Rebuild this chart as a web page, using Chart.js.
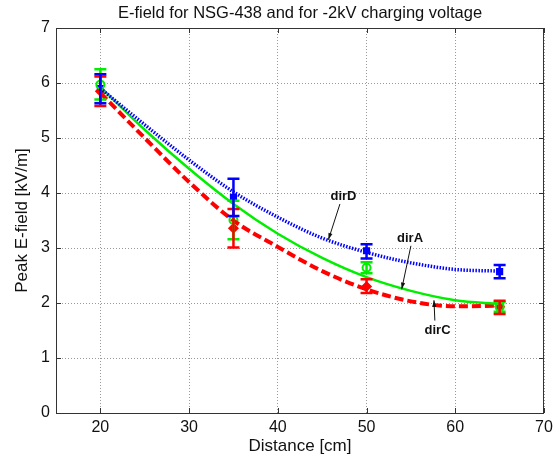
<!DOCTYPE html>
<html><head><meta charset="utf-8">
<script src="https://cdn.jsdelivr.net/npm/chart.js@4/dist/chart.umd.min.js"></script>
<style>html,body{margin:0;padding:0;background:#fff}#wrap{width:558px;height:463px;position:relative}</style>
</head><body><div id="wrap"><canvas id="c"></canvas></div>
<script>
// measured points
const distances = [20, 35, 50, 65];
const dirA = [5.97, 3.51, 2.64, 1.93];
const dirALow = [5.70, 3.16, 2.54, 1.84];
const dirAHigh = [6.25, 3.86, 2.74, 2.02];
const dirC = [5.85, 3.36, 2.30, 1.93];
const dirCLow = [5.58, 3.01, 2.18, 1.80];
const dirCHigh = [6.12, 3.71, 2.43, 2.04];
const dirD = [5.90, 3.92, 2.95, 2.57];
const dirDLow = [5.63, 3.58, 2.81, 2.45];
const dirDHigh = [6.16, 4.26, 3.07, 2.69];
// fitted curves
const fitX = [20, 25, 30, 35, 40, 45, 50, 55, 60, 65];
const fitA = [5.93, 5.15, 4.44, 3.80, 3.26, 2.82, 2.47, 2.22, 2.05, 1.98];
const fitC = [5.82, 5.00, 4.20, 3.50, 3.02, 2.58, 2.25, 2.03, 1.94, 1.95];
const fitD = [5.90, 5.24, 4.60, 4.02, 3.56, 3.18, 2.92, 2.73, 2.61, 2.58];
// axis ticks
const xTicks = [20, 30, 40, 50, 60, 70];
const yTicks = [0, 1, 2, 3, 4, 5, 6, 7];
const titleText = 'E-field for NSG-438 and for -2kV charging voltage';
// annotations: label, text pos, arrow tail, arrow tip (data coords)
const notes = [
  {label: 'dirD', tx: 47.4, ty: 3.93, ax: 47.0, ay: 3.80, bx: 45.7, by: 3.15},
  {label: 'dirA', tx: 54.9, ty: 3.18, ax: 55.0, ay: 3.04, bx: 53.96, by: 2.25},
  {label: 'dirC', tx: 58.0, ty: 1.50, ax: 57.7, ay: 1.68, bx: 57.6, by: 2.05}
];

const FONT = '"Liberation Sans", Arial, sans-serif';
const GREEN = '#00ee00', RED = '#ff0000', BLUE = '#0000ff';
const pts = (xs, ys) => xs.map((x, i) => ({x, y: ys[i]}));

const errSets = [
  {lo: dirALow, hi: dirAHigh, color: GREEN},
  {lo: dirCLow, hi: dirCHigh, color: RED},
  {lo: dirDLow, hi: dirDHigh, color: BLUE}
];

const framePlugin = {
  id: 'frame',
  beforeDatasetsDraw(chart) {
    const {ctx, chartArea: a, scales: {x, y}} = chart;
    ctx.save();
    ctx.strokeStyle = '#333';
    ctx.lineWidth = 1;
    ctx.strokeRect(a.left + 0.5, a.top + 0.5, a.right - a.left - 1, a.bottom - a.top);
    xTicks.forEach(v => {
      const px = Math.round(x.getPixelForValue(v)) + 0.5;
      ctx.beginPath(); ctx.moveTo(px, a.bottom); ctx.lineTo(px, a.bottom - 5);
      ctx.moveTo(px, a.top); ctx.lineTo(px, a.top + 5); ctx.stroke();
    });
    yTicks.forEach(v => {
      const py = Math.round(y.getPixelForValue(v)) + 0.5;
      ctx.beginPath(); ctx.moveTo(a.left, py); ctx.lineTo(a.left + 5, py);
      ctx.moveTo(a.right, py); ctx.lineTo(a.right - 5, py); ctx.stroke();
    });
    ctx.fillStyle = '#111';
    ctx.font = '16.5px ' + FONT;
    ctx.textAlign = 'center';
    ctx.textBaseline = 'middle';
    ctx.fillText(titleText, (a.left + a.right) / 2, 13);
    ctx.restore();
  },
  afterDatasetsDraw(chart) {
    const {ctx, scales: {x, y}} = chart;
    ctx.save();
    errSets.forEach(s => {
      ctx.strokeStyle = s.color;
      ctx.lineWidth = 2.5;
      distances.forEach((d, i) => {
        const px = x.getPixelForValue(d);
        const p1 = y.getPixelForValue(s.lo[i]);
        const p2 = y.getPixelForValue(s.hi[i]);
        ctx.beginPath();
        ctx.moveTo(px, p1); ctx.lineTo(px, p2);
        ctx.moveTo(px - 6, p1); ctx.lineTo(px + 6, p1);
        ctx.moveTo(px - 6, p2); ctx.lineTo(px + 6, p2);
        ctx.stroke();
      });
    });
    ctx.fillStyle = '#111';
    ctx.strokeStyle = '#111';
    ctx.lineWidth = 1;
    ctx.font = 'bold 13px ' + FONT;
    ctx.textAlign = 'center';
    ctx.textBaseline = 'middle';
    notes.forEach(n => {
      ctx.fillText(n.label, x.getPixelForValue(n.tx), y.getPixelForValue(n.ty));
      const ax = x.getPixelForValue(n.ax), ay = y.getPixelForValue(n.ay);
      const bx = x.getPixelForValue(n.bx), by = y.getPixelForValue(n.by);
      ctx.beginPath(); ctx.moveTo(ax, ay); ctx.lineTo(bx, by); ctx.stroke();
      const ang = Math.atan2(by - ay, bx - ax);
      ctx.beginPath();
      ctx.moveTo(bx, by);
      ctx.lineTo(bx - 7 * Math.cos(ang - 0.3), by - 7 * Math.sin(ang - 0.3));
      ctx.lineTo(bx - 7 * Math.cos(ang + 0.3), by - 7 * Math.sin(ang + 0.3));
      ctx.closePath(); ctx.fill();
    });
    ctx.restore();
  }
};

new Chart(document.getElementById('c'), {
  type: 'scatter',
  data: {
    datasets: [
      {label: 'dirD fit', data: pts(fitX, fitD), showLine: true, borderColor: BLUE, borderWidth: 3.5,
       borderDash: [1.5, 1.5], pointRadius: 0, cubicInterpolationMode: 'monotone'},
      {label: 'dirA fit', data: pts(fitX, fitA), showLine: true, borderColor: GREEN, borderWidth: 2.5,
       pointRadius: 0, cubicInterpolationMode: 'monotone'},
      {label: 'dirC fit', data: pts(fitX, fitC), showLine: true, borderColor: RED, borderWidth: 4,
       borderDash: [9, 4], pointRadius: 0, cubicInterpolationMode: 'monotone'},
      {label: 'dirA', data: pts(distances, dirA), pointStyle: 'circle', pointRadius: 4,
       borderColor: GREEN, backgroundColor: 'rgba(0,0,0,0)', borderWidth: 2},
      {label: 'dirC', data: pts(distances, dirC), pointStyle: 'rectRot', pointRadius: 4.5,
       borderColor: RED, backgroundColor: RED, borderWidth: 1.5},
      {label: 'dirD', data: pts(distances, dirD), pointStyle: 'rect', pointRadius: 4,
       borderColor: BLUE, backgroundColor: BLUE, borderWidth: 1.5}
    ]
  },
  options: {
    responsive: true,
    maintainAspectRatio: false,
    animation: false,
    layout: {padding: {top: 28, right: 14, bottom: 0, left: 0}},
    plugins: {
      legend: {display: false},
      tooltip: {enabled: false},
      title: {display: false}
    },
    scales: {
      x: {
        type: 'linear', min: 15, max: 70,
        afterBuildTicks: s => { s.ticks = xTicks.map(v => ({value: v})); },
        afterFit: s => { s.height = 50; },
        grid: {color: '#999', drawTicks: false, lineWidth: 1},
        border: {display: false, dash: [1, 2]},
        ticks: {color: '#111', padding: 5, font: {family: FONT, size: 16}},
        title: {display: true, text: 'Distance [cm]', color: '#111', padding: {top: 0, bottom: 6},
          font: {family: FONT, size: 17}}
      },
      y: {
        min: 0, max: 7,
        afterBuildTicks: s => { s.ticks = yTicks.map(v => ({value: v})); },
        afterFit: s => { s.width = 56; },
        grid: {color: '#999', drawTicks: false, lineWidth: 1},
        border: {display: false, dash: [1, 2]},
        ticks: {color: '#111', padding: 6, font: {family: FONT, size: 16}},
        title: {display: true, text: 'Peak E-field [kV/m]', color: '#111', padding: {top: 12},
          font: {family: FONT, size: 17}}
      }
    }
  },
  plugins: [framePlugin]
});
</script>
</body></html>
